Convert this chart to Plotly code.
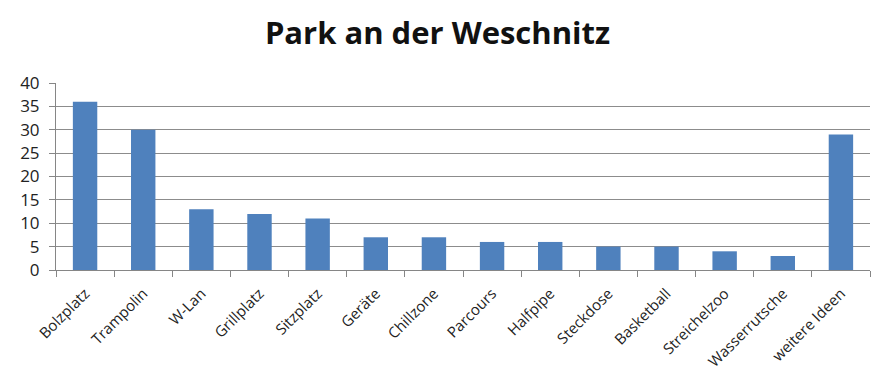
import plotly.graph_objects as go

# Wünsche für den Park an der Weschnitz
categories = ["Bolzplatz", "Trampolin", "W-Lan", "Grillplatz", "Sitzplatz", "Geräte",
              "Chillzone", "Parcours", "Halfpipe", "Steckdose", "Basketball",
              "Streichelzoo", "Wasserrutsche", "weitere Ideen"]
votes = [36, 30, 13, 12, 11, 7, 7, 6, 6, 5, 5, 4, 3, 29]
y_ticks = [0, 5, 10, 15, 20, 25, 30, 35, 40]

fig = go.Figure(go.Bar(
    x=categories, y=votes,
    marker=dict(color="#4F81BD", line=dict(width=0)),
))

fig.update_layout(
    width=875, height=385,
    paper_bgcolor="white", plot_bgcolor="white",
    margin=dict(l=56, r=5, t=83, b=115),
    bargap=0.58,
    showlegend=False,
    title=dict(text="<b>Park an der Weschnitz</b>", x=0.5, xanchor="center",
               y=0.915, yanchor="middle",
               font=dict(family="Open Sans, Lato, sans-serif", size=31, color="#111111")),
    font=dict(family="Open Sans, Lato, sans-serif", color="#222222"),
)

fig.update_xaxes(
    type="category", tickangle=-45, automargin=False,
    tickfont=dict(size=15, color="#222222"),
    ticklabelstandoff=8,
    showline=True, linecolor="#868686", linewidth=1,
    ticks="outside", tickson="boundaries", ticklen=6, tickcolor="#868686",
    showgrid=False,
)
fig.update_yaxes(
    range=[0, 40], tickvals=y_ticks, automargin=False,
    tickfont=dict(size=17, color="#222222"),
    ticklabelstandoff=6,
    showgrid=True, gridcolor="#8C8C8C", gridwidth=1,
    showline=True, linecolor="#868686", linewidth=1,
    ticks="outside", ticklen=6, tickcolor="#868686",
    zeroline=False,
)

fig.write_html("out.html")
